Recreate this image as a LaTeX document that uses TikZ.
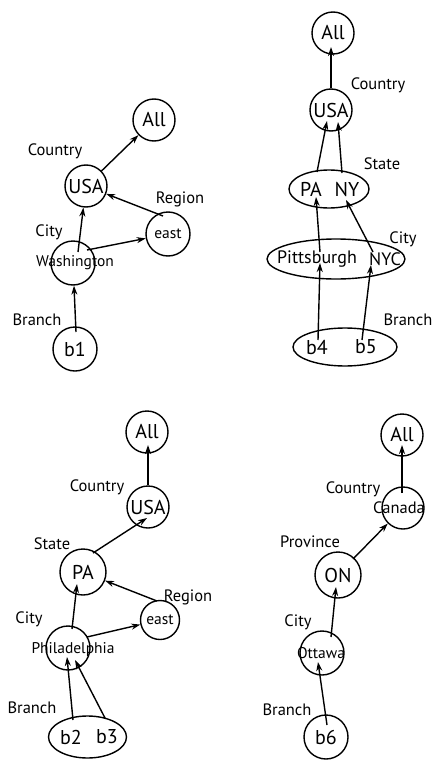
\documentclass[tikz,border=0pt]{standalone}
\usepackage{fontspec}
\setmainfont{PT Sans}
\usetikzlibrary{arrows.meta,calc,shapes.geometric}
\begin{document}
\begin{tikzpicture}[x=1pt,y=-1pt,
  line width=1.4pt,
  disc/.style={circle,draw,inner sep=0pt,minimum size=#1,font=\fontsize{20}{20}\selectfont},
  disc/.default=42pt,
  oval/.style={ellipse,draw,inner sep=0pt},
  word/.style={inner sep=0pt,font=\fontsize{20}{20}\selectfont},
  longword/.style={inner sep=0pt,font=\fontsize{18}{18}\selectfont},
  small/.style={inner sep=0pt,font=\fontsize{15.5}{15.5}\selectfont},
  lvl/.style={inner sep=0pt,font=\fontsize{16.5}{16.5}\selectfont},
  arr/.style={-{Stealth[length=9pt,width=6pt]},line width=1.4pt}]
\fill[white] (0,0) rectangle (435,760);
\useasboundingbox (0,0) rectangle (435,760);

% ---------- Washington ----------
\node[disc] (allA) at (154,120) {All};
\node[disc] (usaA) at (86,186) {USA};
\node[disc=44pt,font=\fontsize{15.5}{15.5}\selectfont] (eastA) at (168,234) {east};
\node[disc=44pt] (washA) at (73,263) {};
\node[small] (washT) at (75,263) {Washington};
\node[disc=44pt] (b1) at (75,349) {b1};
\node[lvl] at (55,151) {Country};
\node[lvl] at (180,199) {Region};
\node[lvl] at (49,232) {City};
\node[lvl] at (37,320) {Branch};
\draw[arr] (usaA) -- (allA);
\draw[arr] ($(washA)+(5,-11)$) -- (usaA);
\draw[arr] ($(eastA)+(-5,-18)$) -- (usaA);
\draw[arr] ($(washA)+(14,-13)$) -- (eastA);
\draw[arr] ($(b1)+(1,-17)$) -- (washA);

% ---------- Pittsburgh / NYC ----------
\node[disc] (allB) at (333,33) {All};
\node[disc] (usaB) at (331,110) {USA};
\node[oval,minimum width=80pt,minimum height=38pt] (stateB) at (329,189) {};
\node[word] (paB) at (311,189) {PA};
\node[word] (nyB) at (347,189) {NY};
\node[oval,minimum width=138pt,minimum height=40pt] (cityB) at (336,259) {};
\node[longword] (pittB) at (317,259) {Pittsburgh};
\node[longword] (nycB) at (385,259) {NYC};
\node[oval,minimum width=104pt,minimum height=38pt] (branchB) at (345,347) {};
\node[word] (b4) at (317,347) {b4};
\node[word] (b5) at (366,347) {b5};
\node[lvl] at (378,85) {Country};
\node[lvl] at (382,164) {State};
\node[lvl] at (403,239) {City};
\node[lvl] at (408,320) {Branch};
\draw[arr] (usaB) -- ($(allB)+(-2,14)$);
\draw[arr] ($(paB)+(6,-17)$) -- ($(usaB)+(-4,11)$);
\draw[arr] ($(nyB)+(-5,-16)$) -- ($(usaB)+(7,12)$);
\draw[arr] ($(pittB)+(3,-7)$) -- ($(paB)+(5,8)$);
\draw[arr] ($(nycB)+(-12,-7)$) -- ($(nyB)+(-1,11)$);
\draw[arr] ($(b4)+(1,-7)$) -- ($(pittB)+(3,4)$);
\draw[arr] ($(b5)+(-4,-7)$) -- ($(nycB)+(-14,6)$);

% ---------- Philadelphia ----------
\node[disc] (allC) at (147,432) {All};
\node[disc] (usaC) at (148,507) {USA};
\node[disc=46pt] (paC) at (83,572) {PA};
\node[disc=39pt,font=\fontsize{15.5}{15.5}\selectfont] (eastC) at (160,620) {east};
\node[disc=44pt] (philC) at (68,648) {};
\node[small] (philT) at (73,650) {Philadelphia};
\node[oval,minimum width=78pt,minimum height=42pt] (branchC) at (87.5,737) {};
\node[word] (b2) at (71,737) {b2};
\node[word] (b3) at (107,737) {b3};
\node[lvl] at (97,487) {Country};
\node[lvl] at (52,544) {State};
\node[lvl] at (188,597) {Region};
\node[lvl] at (29,619) {City};
\node[lvl] at (32,708) {Branch};
\draw[arr] (usaC) -- ($(allC)+(1,13)$);
\draw[arr] ($(paC)+(10,-19)$) -- ($(usaC)+(-1,11)$);
\draw[arr] ($(eastC)+(-3,-19)$) -- (paC);
\draw[arr] ($(philC)+(4,-19)$) -- ($(paC)+(-6,12)$);
\draw[arr] ($(philC)+(19,-11)$) -- (eastC);
\draw[arr] ($(b2)+(2,-17)$) -- ($(philC)+(-1,9)$);
\draw[arr] ($(b3)+(-2,-19)$) -- ($(philC)+(7,12)$);

% ---------- Ottawa ----------
\node[disc] (allD) at (402,435) {All};
\node[disc] (canD) at (403,508) {};
\node[font=\fontsize{16.5}{16.5}\selectfont,inner sep=0pt] (canT) at (399,508) {Canada};
\node[disc=46pt] (onD) at (338,575) {ON};
\node[disc=44pt] (ottD) at (322,653) {};
\node[font=\fontsize{15.5}{15.5}\selectfont,inner sep=0pt] (ottT) at (321,653) {Ottawa};
\node[disc=44pt] (b6) at (326,737) {b6};
\node[lvl] at (353,489) {Country};
\node[lvl] at (310,542) {Province};
\node[lvl] at (298,622) {City};
\node[lvl] at (287,710) {Branch};
\draw[arr] ($(canD)+(-1,-15)$) -- ($(allD)+(0,10)$);
\draw[arr] ($(onD)+(15,-16)$) -- (canD);
\draw[arr] ($(ottD)+(9,-16)$) -- ($(onD)+(-2,12)$);
\draw[arr] ($(b6)+(1,-12)$) -- ($(ottD)+(-4,9)$);
\end{tikzpicture}
\end{document}
